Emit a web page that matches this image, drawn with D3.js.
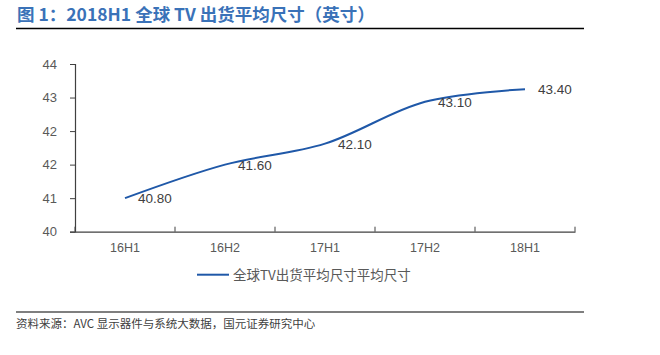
<!DOCTYPE html>
<html><head><meta charset="utf-8">
<script src="https://cdn.jsdelivr.net/npm/d3@7"></script>
<style>body{margin:0;background:#fff;} svg{display:block;}</style>
</head><body>
<svg id="c" width="660" height="355"></svg>
<script>
const categories = ["16H1","16H2","17H1","17H2","18H1"];
const values = [40.8, 41.6, 42.1, 43.1, 43.4];
const yTicks = [40, 40.8, 41.6, 42.4, 43.2, 44];
const seriesName = "全球TV出货平均尺寸平均尺寸";
const titleText = "图 1：2018H1 全球 TV 出货平均尺寸（英寸）";
const sourceText = "资料来源：AVC 显示器件与系统大数据，国元证券研究中心";

(function () {
const svg = d3.select("#c");
const font = "'Liberation Sans', Arial, 'Noto Sans CJK SC', sans-serif";
const cjk = "'Noto Sans CJK SC', 'Liberation Sans', sans-serif";
const pL = 75, pR = 575, pT = 64, pB = 231.7;

svg.append("text").attr("x", 17).attr("y", 20.5).text(titleText)
  .attr("font-family", cjk).attr("font-weight", "bold").attr("font-size", 17.5)
  .attr("fill", "#3a72b8");
svg.append("line").attr("x1", 16).attr("x2", 584).attr("y1", 28.5).attr("y2", 28.5)
  .attr("stroke", "#000").attr("stroke-width", 1.5);

const x = d3.scaleBand().domain(categories).range([pL, pR]);
const y = d3.scaleLinear().domain([40, 44]).range([pB, pT]);

const yAxis = svg.append("g").attr("transform", `translate(${pL},0)`)
  .call(d3.axisLeft(y).tickValues(yTicks).tickFormat(d3.format(".0f")).tickSize(5).tickPadding(13));
const xAxis = svg.append("g").attr("transform", `translate(0,${pB})`)
  .call(d3.axisBottom(x).tickSize(0).tickPadding(11));
const bounds = categories.map(c => x(c)).concat([pR]);
svg.append("g").selectAll("line").data(bounds).join("line")
  .attr("x1", d => d).attr("x2", d => d).attr("y1", pB).attr("y2", pB - 5)
  .attr("stroke", "#404040").attr("stroke-width", 1);

[yAxis, xAxis].forEach(g => {
  g.select(".domain").attr("stroke", "#404040").attr("stroke-width", 1.2);
  g.selectAll(".tick line").attr("stroke", "#404040");
  g.selectAll("text").attr("font-family", font).attr("font-size", 13).attr("fill", "#595959");
});
xAxis.selectAll("text").attr("font-size", 12.5);

const cx = c => x(c) + x.bandwidth() / 2;
const line = d3.line().x((d, i) => cx(categories[i])).y(d => y(d)).curve(d3.curveCatmullRom.alpha(0.5));
svg.append("path").datum(values).attr("d", line).attr("fill", "none")
  .attr("stroke", "#1f58a8").attr("stroke-width", 2);

svg.append("g").selectAll("text").data(values).join("text")
  .attr("x", (d, i) => cx(categories[i]) + 13).attr("y", d => y(d) + 5)
  .text(d => d3.format(".2f")(d))
  .attr("font-family", font).attr("font-size", 13.5).attr("fill", "#404040");

svg.append("line").attr("x1", 197).attr("x2", 229).attr("y1", 274.7).attr("y2", 274.7)
  .attr("stroke", "#1f58a8").attr("stroke-width", 2);
svg.append("text").attr("x", 233).attr("y", 279.5).text(seriesName)
  .attr("font-family", cjk).attr("font-size", 13.5).attr("fill", "#595959");

svg.append("line").attr("x1", 16).attr("x2", 584).attr("y1", 312).attr("y2", 312)
  .attr("stroke", "#000").attr("stroke-width", 1.2);
svg.append("text").attr("x", 16).attr("y", 328).text(sourceText)
  .attr("font-family", cjk).attr("font-size", 11.5).attr("fill", "#404040");
})();
</script>
</body></html>
